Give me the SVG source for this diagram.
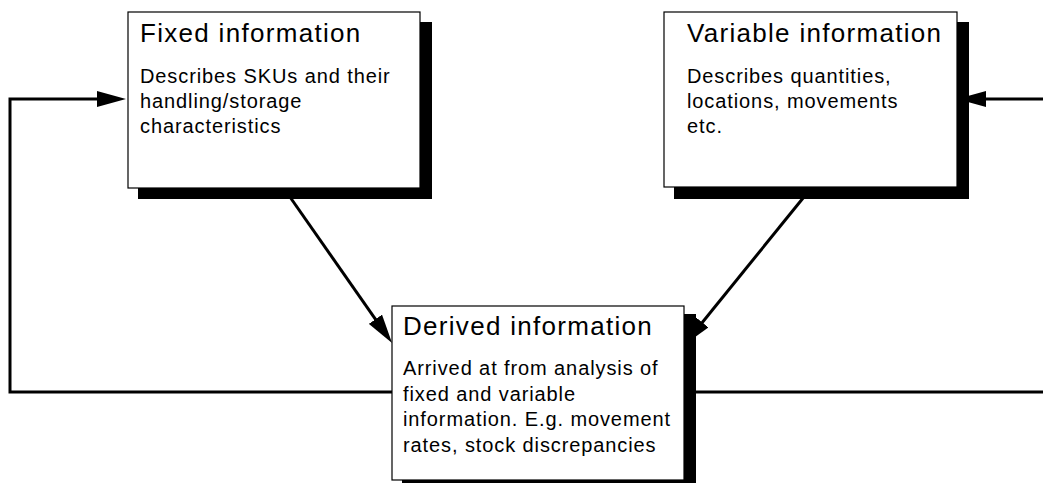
<svg xmlns="http://www.w3.org/2000/svg" width="1043" height="483" viewBox="0 0 1043 483">
<style>
.box{fill:#fff;stroke:#000;stroke-width:1.2}
.sh{fill:#000}
.title{font-family:"Liberation Sans",Arial,sans-serif;font-size:26px;letter-spacing:1.3px;fill:#000}
.body{font-family:"Liberation Sans",Arial,sans-serif;font-size:20px;letter-spacing:0.9px;fill:#000}
.conn{fill:none;stroke:#000;stroke-width:3}
</style>
<defs>
<marker id="arr" markerUnits="userSpaceOnUse" markerWidth="30" markerHeight="16" refX="20" refY="8" orient="auto">
<path d="M0,0 L29,8 L0,16 z" fill="#000"/>
</marker>
</defs>
<rect width="1043" height="483" fill="#fff"/>
<g id="connectors">
<polyline class="conn" points="392,392 10,392 10,99 117,99" marker-end="url(#arr)"/>
<polyline class="conn" points="684,392 1043,392"/>
<line class="conn" x1="1043" y1="99" x2="966" y2="99" marker-end="url(#arr)"/>
<line class="conn" x1="283" y1="187" x2="386.9" y2="335.6" marker-end="url(#arr)"/>
<line class="conn" x1="812" y1="187" x2="689.7" y2="338" marker-end="url(#arr)"/>
</g>
<g id="fixed">
<rect class="sh" x="138" y="22" width="294" height="177"/>
<rect class="box" x="128" y="12" width="292" height="176"/>
<text class="title" x="140" y="42">Fixed information</text>
<text class="body" x="140" y="83">Describes SKUs and their</text>
<text class="body" x="140" y="108">handling/storage</text>
<text class="body" x="140" y="133">characteristics</text>
</g>
<g id="variable">
<rect class="sh" x="674" y="22" width="295" height="177"/>
<rect class="box" x="664" y="12" width="293" height="175"/>
<text class="title" x="687" y="42">Variable information</text>
<text class="body" x="687" y="83">Describes quantities,</text>
<text class="body" x="687" y="108">locations, movements</text>
<text class="body" x="687" y="133">etc.</text>
</g>
<g id="derived">
<rect class="sh" x="402" y="314" width="294" height="175"/>
<rect class="box" x="392" y="306" width="292" height="174"/>
<text class="title" x="403" y="335">Derived information</text>
<text class="body" x="403" y="375">Arrived at from analysis of</text>
<text class="body" x="403" y="401">fixed and variable</text>
<text class="body" x="403" y="426">information. E.g. movement</text>
<text class="body" x="403" y="452">rates, stock discrepancies</text>
</g>
</svg>
